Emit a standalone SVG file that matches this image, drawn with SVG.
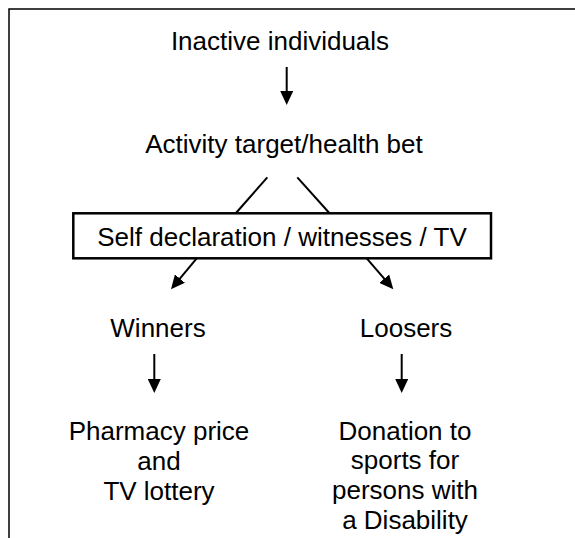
<svg xmlns="http://www.w3.org/2000/svg" width="575" height="538" viewBox="0 0 575 538">
<style>
text{font-family:"Liberation Sans",Arial,sans-serif;font-size:26px;fill:#000;text-anchor:middle}
.ln{stroke:#000;stroke-width:2;fill:none}
.fr{stroke:#000;stroke-width:1.5;fill:none}
.box{stroke:#000;stroke-width:2.5;fill:#fff}
</style>
<defs>
<marker id="ah" markerUnits="userSpaceOnUse" markerWidth="14" markerHeight="13" refX="6" refY="6.5" orient="auto">
<path d="M0,0 L14,6.5 L0,13 z" fill="#000"/>
</marker>
</defs>
<rect width="575" height="538" fill="#fff"/>
<g id="frame">
<path class="fr" d="M575,9 H9 V538"/>
</g>
<g id="connectors">
<line class="ln" x1="286.7" y1="67" x2="286.7" y2="97" marker-end="url(#ah)"/>
<line class="ln" x1="267.3" y1="177.3" x2="236" y2="213"/>
<line class="ln" x1="297.3" y1="177.3" x2="329.3" y2="213"/>
<line class="ln" x1="196.7" y1="258.3" x2="176.1" y2="283.2" marker-end="url(#ah)"/>
<line class="ln" x1="366.7" y1="258.3" x2="388.1" y2="283.2" marker-end="url(#ah)"/>
<line class="ln" x1="154.3" y1="354" x2="154.3" y2="385" marker-end="url(#ah)"/>
<line class="ln" x1="401.7" y1="354" x2="401.7" y2="385" marker-end="url(#ah)"/>
</g>
<g id="inactive"><text x="280" y="50">Inactive individuals</text></g>
<g id="activity"><text x="284" y="153">Activity target/health bet</text></g>
<g id="verification">
<rect class="box" x="73.3" y="213.3" width="417.7" height="45"/>
<text x="282" y="246">Self declaration / witnesses / TV</text>
</g>
<g id="winners"><text x="158" y="337">Winners</text></g>
<g id="loosers"><text x="406" y="337">Loosers</text></g>
<g id="prize">
<text x="159" y="440">Pharmacy price</text>
<text x="159" y="470">and</text>
<text x="159" y="500">TV lottery</text>
</g>
<g id="donation">
<text x="405" y="440">Donation to</text>
<text x="405" y="469">sports for</text>
<text x="405" y="499">persons with</text>
<text x="405" y="529">a Disability</text>
</g>
</svg>
